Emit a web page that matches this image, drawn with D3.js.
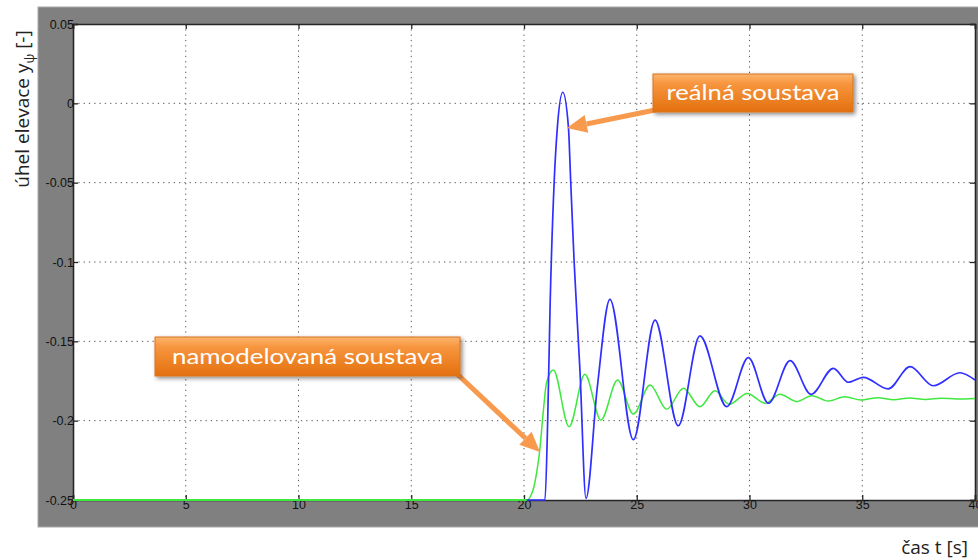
<!DOCTYPE html>
<html><head><meta charset="utf-8">
<script src="https://cdn.jsdelivr.net/npm/d3@7"></script>
<style>body{margin:0;background:#fff;}svg{display:block;}</style>
</head><body>
<script>
// ---- data ----
const xTicks = [0,5,10,15,20,25,30,35,40];
const yTicks = [0.05,0,-0.05,-0.1,-0.15,-0.2,-0.25];
const realT = [0,20.93,21.05,21.16,21.34,21.48,21.72,21.97,22.07,22.22,22.48,22.75,23.25,23.81,24.85,25.81,26.84,27.8,28.99,29.95,30.84,31.8,32.73,33.72,34.38,35.05,36.15,37.12,38.15,39.33,40];
const realV = [-0.25,-0.25,-0.2,-0.126,-0.049,-0.015,0.007,-0.015,-0.049,-0.099,-0.168,-0.249,-0.179,-0.1235,-0.212,-0.1366,-0.2032,-0.1466,-0.1912,-0.1603,-0.189,-0.1622,-0.1834,-0.167,-0.1758,-0.1727,-0.180,-0.166,-0.178,-0.1698,-0.1744];
const modelT = [0,20.12,20.4,20.58,20.7,20.85,21.0,21.3,22.0,22.7,23.41,24.15,24.85,25.59,26.33,27.07,27.8,28.47,29.1,29.9,30.7,31.35,32.1,32.76,33.49,34.23,34.94,35.7,36.4,37.1,37.8,38.5,39.2,40];
const modelV = [-0.25,-0.25,-0.2437,-0.231,-0.2185,-0.195,-0.176,-0.168,-0.2038,-0.1708,-0.1996,-0.1744,-0.1958,-0.1775,-0.1928,-0.1796,-0.1912,-0.1812,-0.1897,-0.1828,-0.189,-0.1834,-0.188,-0.1843,-0.1876,-0.1849,-0.187,-0.1855,-0.1868,-0.1857,-0.1866,-0.1858,-0.1864,-0.186];
const labelReal = "reálná soustava";
const labelModel = "namodelovaná soustava";
const arrowRealTip = [21.9, -0.0155];
const arrowModelTip = [20.71, -0.2197];

// ---- layout ----
const W = 978, H = 560;
const L = 73, R = 975, T = 24, B = 500;
const svg = d3.select("body").append("svg").attr("width", W).attr("height", H);
const defs = svg.append("defs");

const x = d3.scaleLinear().domain([0,40]).range([L,R]);
const y = d3.scaleLinear().domain([-0.25,0.05]).range([B,T]);

// gray frame
svg.append("rect").attr("x",38).attr("y",7).attr("width",960).attr("height",520)
  .attr("fill","#808080").attr("stroke","#a8a8a8").attr("stroke-width",1);
svg.append("rect").attr("x",L).attr("y",T).attr("width",R-L).attr("height",B-T).attr("fill","#fff");

// grid
const grid = svg.append("g");
xTicks.slice(1,-1).forEach(t=>{
  grid.append("line").attr("x1",x(t)).attr("x2",x(t)).attr("y1",T).attr("y2",B)
    .attr("stroke","#5a5a5a").attr("stroke-width",1).attr("stroke-dasharray","1.3,4");
});
yTicks.slice(1,-1).forEach(v=>{
  grid.append("line").attr("x1",L).attr("x2",R).attr("y1",y(v)).attr("y2",y(v))
    .attr("stroke","#5a5a5a").attr("stroke-width",1).attr("stroke-dasharray","1.3,4");
});

// axes
const fmt = v => String(+v.toFixed(2));
const ax = svg.append("g");
const xb = ax.append("g").attr("transform",`translate(0,${B})`).call(d3.axisBottom(x).tickValues(xTicks).tickSize(-5).tickPadding(3).tickFormat(d=>d));
const xt = ax.append("g").attr("transform",`translate(0,${T})`).call(d3.axisTop(x).tickValues(xTicks).tickSize(-5).tickFormat(""));
const yl = ax.append("g").attr("transform",`translate(${L},0)`).call(d3.axisLeft(y).tickValues(yTicks).tickSize(-5).tickPadding(4).tickFormat(fmt));
const yr = ax.append("g").attr("transform",`translate(${R},0)`).call(d3.axisRight(y).tickValues(yTicks).tickSize(-5).tickFormat(""));
ax.selectAll(".domain").attr("stroke","#262626").attr("stroke-width",1.6);
ax.selectAll(".tick line").attr("stroke","#262626").attr("stroke-width",1.3);
ax.selectAll(".tick text").attr("fill","#111")
  .style("font-family","'Liberation Sans', Arial, sans-serif").style("font-size","12.5px");
yl.selectAll(".tick text").attr("dx","0.4em");
xb.selectAll(".tick text").attr("dy","0.5em");

// curves
defs.append("clipPath").attr("id","clip").append("rect").attr("x",L).attr("y",T-2).attr("width",R-L).attr("height",B-T+4);
const line = d3.line().x(d=>x(d[0])).y(d=>y(d[1])).curve(d3.curveMonotoneX);
const realData = realT.map((t,i)=>[t,realV[i]]);
const modelData = modelT.map((t,i)=>[t,modelV[i]]);
const cg = svg.append("g").attr("clip-path","url(#clip)");
cg.append("path").datum(modelData).attr("d",line).attr("fill","none").attr("stroke","#3ee83e").attr("stroke-width",1.5);
cg.append("path").datum(realData).attr("d",line).attr("fill","none").attr("stroke","#2f2fff").attr("stroke-width",1.7);
cg.append("path").datum(modelData.slice(0,2)).attr("d",line).attr("fill","none").attr("stroke","#3ee83e").attr("stroke-width",2);

// axis titles
const yt = svg.append("text").attr("transform","translate(29,109) rotate(-90)")
  .attr("text-anchor","middle").attr("font-family","'Open Sans', sans-serif").attr("font-size",19).attr("fill","#222");
yt.append("tspan").text("úhel elevace y");
yt.append("tspan").attr("font-size",13).attr("dy",5).text("ψ");
yt.append("tspan").attr("dy",-5).text(" [-]");
svg.append("text").attr("x",968).attr("y",554).attr("text-anchor","end")
  .attr("font-family","'Open Sans', sans-serif").attr("font-size",19).attr("fill","#222").text("čas t [s]");

// annotation styles
const grad = defs.append("linearGradient").attr("id","og").attr("x1",0).attr("y1",0).attr("x2",0).attr("y2",1);
grad.append("stop").attr("offset","0").attr("stop-color","#fbb56e");
grad.append("stop").attr("offset","0.25").attr("stop-color","#f7963f");
grad.append("stop").attr("offset","1").attr("stop-color","#e3700e");
const f = defs.append("filter").attr("id","sh").attr("x","-10%").attr("y","-20%").attr("width","130%").attr("height","160%");
f.append("feDropShadow").attr("dx",2).attr("dy",2).attr("stdDeviation",2).attr("flood-color","#000").attr("flood-opacity",0.45);

function arrow(x0,y0,x1,y1){
  const g = svg.append("g");
  const dx=x1-x0, dy=y1-y0, len=Math.hypot(dx,dy), ux=dx/len, uy=dy/len;
  const hl=20, hw=9;
  const bx=x1-ux*hl, by=y1-uy*hl;
  g.append("line").attr("x1",x0).attr("y1",y0).attr("x2",bx).attr("y2",by)
    .attr("stroke","#f79a4e").attr("stroke-width",5);
  g.append("path").attr("d",`M${x1},${y1}L${bx-uy*hw},${by+ux*hw}L${bx+uy*hw},${by-ux*hw}Z`).attr("fill","#f79a4e");
}
function box(x0,y0,w,h,txt,tl){
  const g = svg.append("g");
  g.append("rect").attr("x",x0).attr("y",y0).attr("width",w).attr("height",h)
    .attr("fill","url(#og)").attr("stroke","#d8741e").attr("stroke-width",1).attr("filter","url(#sh)");
  g.append("text").attr("x",x0+w/2).attr("y",y0+h/2+7).attr("text-anchor","middle")
    .attr("font-family","Lato, 'Open Sans', sans-serif").attr("font-size",22).attr("fill","#fff")
    .attr("textLength",tl).attr("lengthAdjust","spacingAndGlyphs").text(txt);
}
arrow(660,109,x(arrowRealTip[0]),y(arrowRealTip[1]));
arrow(455,372,x(arrowModelTip[0]),y(arrowModelTip[1]));
box(653,74,200,38,labelReal,173);
box(155,337,305,39,labelModel,271);
</script>
</body></html>
